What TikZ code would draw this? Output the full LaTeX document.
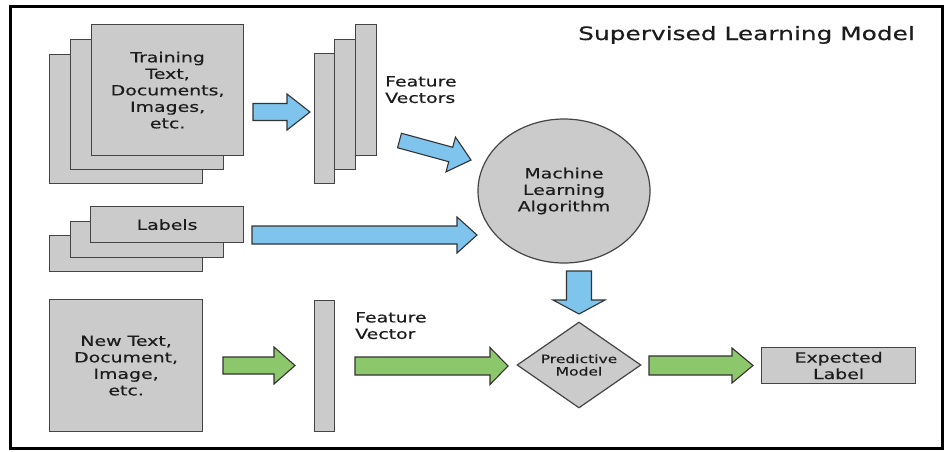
\documentclass[tikz,border=0pt]{standalone}
\usepackage{fontspec}
\setmainfont{DejaVu Sans}[FakeStretch=1.35,FakeBold=0.4]
\usetikzlibrary{shapes.geometric,calc}

\definecolor{boxgray}{HTML}{CBCBCB}
\definecolor{edgegray}{HTML}{444444}
\definecolor{flowblue}{HTML}{7EC4EC}
\definecolor{flowgreen}{HTML}{8DC76B}
\definecolor{inkgray}{HTML}{333333}
\definecolor{textink}{HTML}{1C1C1C}

% Broad block arrow: #1 style, #2 tail point, #3 tip point,
% #4 shaft half-width, #5 head half-width, #6 head length
\newcommand\fatarrow[6]{%
  \coordinate (fa-h) at ($(#3)!#6!(#2)$);
  \draw[#1] ($(#2)!#4!90:(#3)$) -- ($(fa-h)!#4!90:(#3)$) -- ($(fa-h)!#5!90:(#3)$)
    -- (#3) -- ($(fa-h)!#5!-90:(#3)$) -- ($(fa-h)!#4!-90:(#3)$)
    -- ($(#2)!#4!-90:(#3)$) -- cycle;
}

\tikzset{
  sheet/.style={draw=edgegray, fill=boxgray, line width=1.2pt, inner sep=0pt,
    anchor=north west, align=center, text=textink,
    font=\fontsize{14}{16.5}\selectfont},
  bluearrow/.style={draw=inkgray, fill=flowblue, line width=1.1pt, line join=miter},
  greenarrow/.style={draw=inkgray, fill=flowgreen, line width=1.1pt, line join=miter},
  caption/.style={inner sep=0pt, align=left, text=textink,
    font=\fontsize{14}{16.5}\selectfont},
}

\begin{document}
\begin{tikzpicture}[x=1pt,y=-1pt]
  \useasboundingbox (0,0) rectangle (950,451);
  \fill[white] (0,0) rectangle (950,451);

  % frame
  \draw[line width=3pt] (10,6) rectangle (942,448);

  % title
  \node[anchor=base east, inner sep=0pt, text=textink,
        font=\fontsize{18.4}{22}\selectfont] (title) at (915,40) {Supervised Learning Model};

  % training documents (stack of sheets)
  \node[sheet, minimum width=153pt, minimum height=129pt] (tr3) at (49,54) {};
  \node[sheet, minimum width=153pt, minimum height=130pt] (tr2) at (70,39) {};
  \node[sheet, minimum width=152pt, minimum height=131pt] (tr1) at (91,24)
    {Training\\Text,\\Documents,\\Images,\\etc.};

  % feature vectors (stack of bars)
  \node[sheet, minimum width=20pt, minimum height=130pt] (fv3) at (314,53) {};
  \node[sheet, minimum width=21pt, minimum height=130pt] (fv2) at (334,39) {};
  \node[sheet, minimum width=21pt, minimum height=131pt] (fv1) at (355,24) {};
  \node[caption, anchor=north west] (fvtxt) at (385,76) {Feature\\Vectors};

  % labels (stack of sheets)
  \node[sheet, minimum width=153pt, minimum height=36pt] (lb3) at (49,235) {};
  \node[sheet, minimum width=153pt, minimum height=36pt] (lb2) at (70,221) {};
  \node[sheet, minimum width=153pt, minimum height=36pt] (lb1) at (90,206) {Labels};

  % learning algorithm
  \node[ellipse, draw=edgegray, fill=boxgray, line width=1.2pt, inner sep=0pt,
        minimum width=172pt, minimum height=144pt, align=center, text=textink,
        font=\fontsize{14}{16.5}\selectfont] (mla) at (564,191)
    {Machine\\Learning\\Algorithm};

  % prediction row
  \node[sheet, minimum width=153pt, minimum height=132pt] (newdoc) at (49,299)
    {New Text,\\Document,\\Image,\\etc.};
  \node[sheet, minimum width=20pt, minimum height=131pt] (fvnew) at (314,300) {};
  \node[caption, anchor=north west] (fvnewtxt) at (355,312) {Feature\\Vector};

  \node[diamond, draw=edgegray, fill=boxgray, line width=1.2pt, inner sep=0pt,
        minimum width=124pt, minimum height=86pt, aspect=1.44, align=center,
        text=textink, font=\fontsize{11.5}{12.5}\selectfont] (pm) at (579,365)
    {Predictive\\Model};

  \node[sheet, minimum width=154pt, minimum height=36pt] (expl) at (761,347)
    {Expected\\Label};

  % arrow end points
  \coordinate (a1s) at (253,112);   \coordinate (a1e) at (310,112);
  \coordinate (a2s) at (399.5,140.5); \coordinate (a2e) at (471,160);
  \coordinate (a3s) at (252,235);   \coordinate (a3e) at (477,235);
  \coordinate (a4s) at (579,271);   \coordinate (a4e) at (579,314);
  \coordinate (g1s) at (223,365.5); \coordinate (g1e) at (295,365.5);
  \coordinate (g2s) at (355,366);   \coordinate (g2e) at (508,366);
  \coordinate (g3s) at (649,365.5); \coordinate (g3e) at (753,365.5);

  % training flow
  \fatarrow{bluearrow}{a1s}{a1e}{8.5pt}{18pt}{23pt}
  \fatarrow{bluearrow}{a2s}{a2e}{7.5pt}{18pt}{21pt}
  \fatarrow{bluearrow}{a3s}{a3e}{9pt}{18pt}{20pt}
  \fatarrow{bluearrow}{a4s}{a4e}{12.5pt}{26pt}{14pt}

  % prediction flow
  \fatarrow{greenarrow}{g1s}{g1e}{8.5pt}{18.5pt}{21pt}
  \fatarrow{greenarrow}{g2s}{g2e}{9pt}{18.5pt}{18pt}
  \fatarrow{greenarrow}{g3s}{g3e}{9.5pt}{17.5pt}{21pt}
\end{tikzpicture}
\end{document}
